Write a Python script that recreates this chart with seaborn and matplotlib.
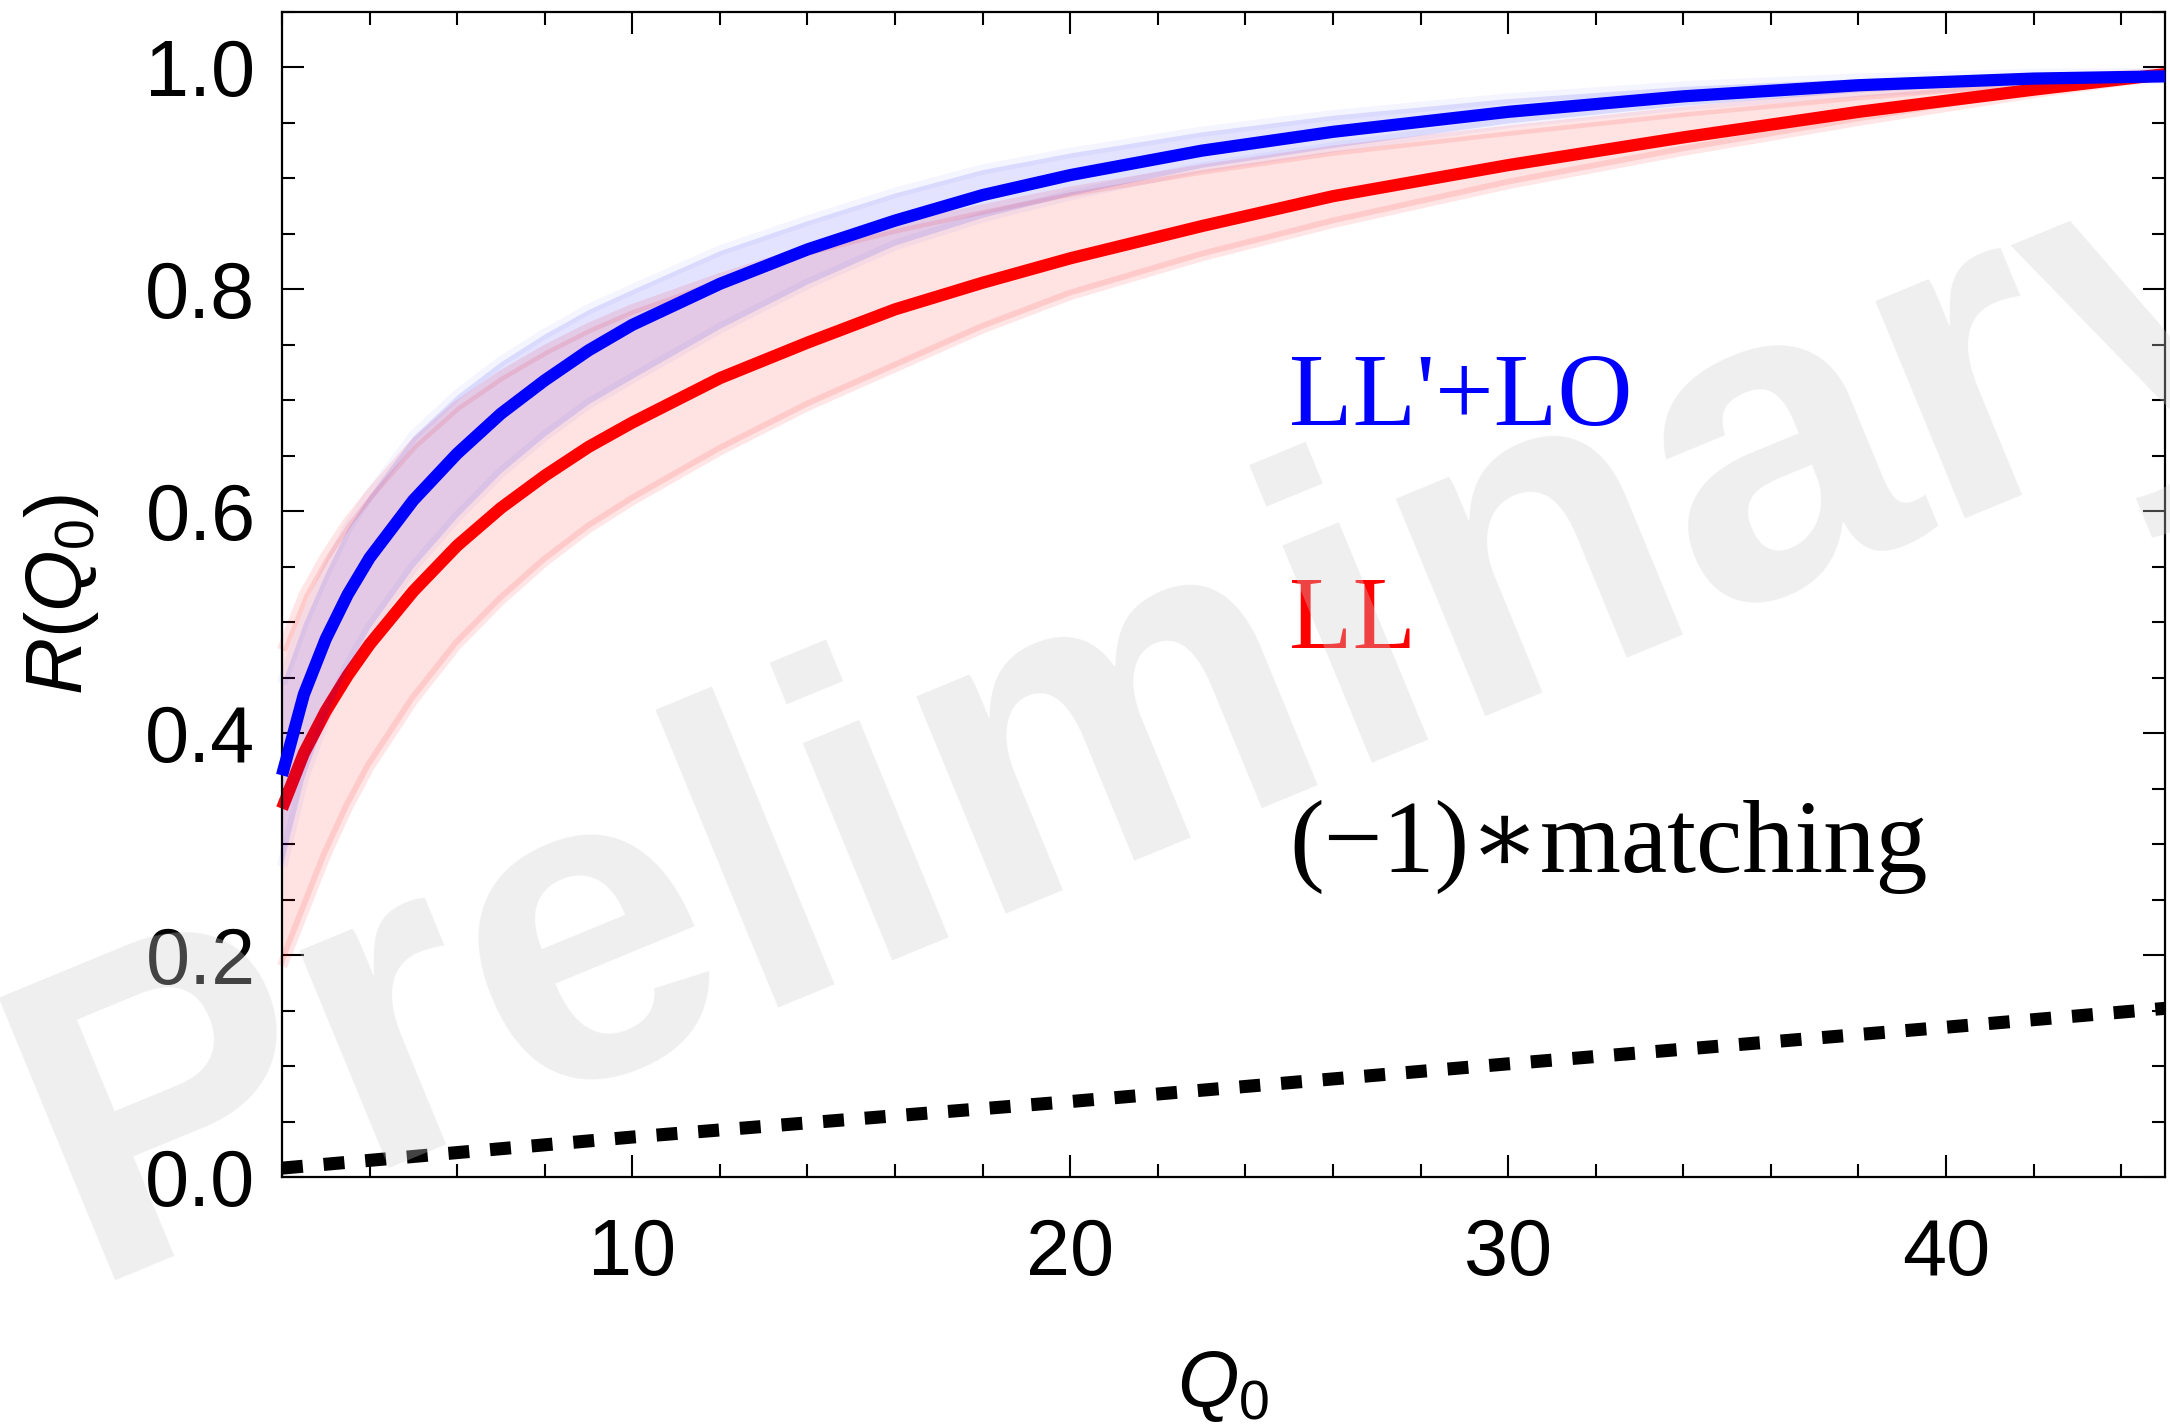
import numpy as np
import pandas as pd
import matplotlib
matplotlib.use("Agg")
import matplotlib.pyplot as plt
import seaborn as sns
from matplotlib.ticker import MultipleLocator, FormatStrFormatter

# ---------------- data ----------------
q0 = [2, 2.5, 3, 3.5, 4, 5, 6, 7, 8, 9, 10, 12, 14, 16, 18, 20, 23, 26, 30, 34, 38, 42, 45]

ll_central = [0.332, 0.382, 0.42, 0.452, 0.48, 0.528, 0.569, 0.603, 0.632, 0.658, 0.68,
              0.72, 0.752, 0.782, 0.806, 0.828, 0.857, 0.884, 0.912, 0.937, 0.96, 0.98, 0.994]
ll_lower = [0.19, 0.24, 0.29, 0.333, 0.37, 0.43, 0.48, 0.52, 0.555, 0.585, 0.61,
            0.655, 0.695, 0.73, 0.765, 0.795, 0.83, 0.86, 0.895, 0.925, 0.952, 0.977, 0.993]
ll_upper = [0.475, 0.525, 0.56, 0.59, 0.615, 0.66, 0.695, 0.722, 0.745, 0.765, 0.782,
            0.81, 0.835, 0.855, 0.872, 0.888, 0.908, 0.925, 0.943, 0.96, 0.975, 0.988, 0.995]

nll_central = [0.362, 0.435, 0.485, 0.525, 0.558, 0.61, 0.652, 0.688, 0.718, 0.745, 0.768,
               0.805, 0.836, 0.862, 0.885, 0.903, 0.925, 0.942, 0.96, 0.974, 0.984, 0.99, 0.992]
nll_lower = [0.28, 0.36, 0.415, 0.46, 0.495, 0.55, 0.595, 0.635, 0.668, 0.697, 0.72,
             0.765, 0.805, 0.84, 0.865, 0.885, 0.91, 0.928, 0.95, 0.966, 0.978, 0.986, 0.99]
nll_upper = [0.445, 0.50, 0.545, 0.585, 0.615, 0.668, 0.705, 0.735, 0.76, 0.782, 0.80,
             0.835, 0.862, 0.887, 0.908, 0.923, 0.942, 0.957, 0.972, 0.983, 0.99, 0.994, 0.995]

match_q0 = [2, 10, 20, 30, 40, 45]
match_vals = [0.008, 0.036, 0.068, 0.102, 0.135, 0.152]

x_major = [10, 20, 30, 40]
y_major = [0.0, 0.2, 0.4, 0.6, 0.8, 1.0]

label_nll = "LL'+LO"
label_ll = "LL"
label_match = "(\u22121)\u2217matching"
watermark = "Preliminary"

# ---------------- style ----------------
sns.set_theme(style="ticks")
plt.rcParams["font.family"] = ["Liberation Sans", "DejaVu Sans"]
plt.rcParams["mathtext.fontset"] = "custom"
plt.rcParams["mathtext.rm"] = "Liberation Sans"
plt.rcParams["mathtext.it"] = "Liberation Sans:italic"

W, H = 2170, 1428
fig = plt.figure(figsize=(W / 100, H / 100), dpi=100)
ax = fig.add_axes([282 / W, 1 - 1177 / H, (2165 - 282) / W, (1177 - 12) / H])

df = pd.DataFrame({"Q0": q0, "ll": ll_central, "ll_lo": ll_lower, "ll_hi": ll_upper,
                   "nll": nll_central, "nll_lo": nll_lower, "nll_hi": nll_upper})
dm = pd.DataFrame({"Q0": match_q0, "m": match_vals})

# LL band
ax.fill_between(df["Q0"], df["ll_lo"], df["ll_hi"], color="red", alpha=0.115, lw=0, zorder=1)
for col in ["ll_lo", "ll_hi"]:
    sns.lineplot(data=df, x="Q0", y=col, ax=ax, color="red", alpha=0.1, lw=7.5,
                 solid_capstyle="butt", solid_joinstyle="round", clip_on=False, zorder=1.5)
# LL central
sns.lineplot(data=df, x="Q0", y="ll", ax=ax, color="red", lw=8.8,
             solid_capstyle="butt", solid_joinstyle="round", clip_on=False, zorder=2)
# LL'+LO band
ax.fill_between(df["Q0"], df["nll_lo"], df["nll_hi"], color="blue", alpha=0.11, lw=0, zorder=3)
for col in ["nll_lo", "nll_hi"]:
    sns.lineplot(data=df, x="Q0", y=col, ax=ax, color="blue", alpha=0.04, lw=7.5,
                 solid_capstyle="butt", solid_joinstyle="round", clip_on=False, zorder=3.5)
# LL'+LO central
sns.lineplot(data=df, x="Q0", y="nll", ax=ax, color="blue", lw=8.8,
             solid_capstyle="butt", solid_joinstyle="round", clip_on=False, zorder=4)
# matching (dashed)
sns.lineplot(data=dm, x="Q0", y="m", ax=ax, color="black", lw=9.4,
             linestyle=(0, (1.6, 1.6)), dash_capstyle="butt", clip_on=False, zorder=5)

ax.set_xlim(2, 45)
ax.set_ylim(0, 1.05)
ax.xaxis.set_major_locator(plt.FixedLocator(x_major))
ax.xaxis.set_minor_locator(MultipleLocator(2))
ax.yaxis.set_major_locator(plt.FixedLocator(y_major))
ax.yaxis.set_minor_locator(MultipleLocator(0.05))
ax.yaxis.set_major_formatter(FormatStrFormatter("%.1f"))

ax.tick_params(which="both", direction="in", top=True, right=True, color="black", width=1.5)
ax.tick_params(which="major", length=15.8)
ax.tick_params(which="minor", length=9.4)
ax.tick_params(axis="x", which="major", labelsize=57, pad=29, labelcolor="black")
ax.tick_params(axis="y", which="major", labelsize=57, pad=19, labelcolor="black")
for s in ax.spines.values():
    s.set_visible(True)
    s.set_color("black")
    s.set_linewidth(1.6)

ax.set_xlabel(r"$Q_0$", fontsize=57, color="black")
ax.set_ylabel(r"$R(Q_0)$", fontsize=57, color="black")
ax.xaxis.set_label_coords(0.5, -0.148)
ax.yaxis.set_label_coords(-0.096, 0.5)

serif = ["Liberation Serif", "DejaVu Serif"]
ax.text(25, 0.678, label_nll, color="blue", fontsize=75, family=serif, va="baseline", ha="left", zorder=6)
ax.text(25, 0.477, label_ll, color="red", fontsize=75, family=serif, va="baseline", ha="left", zorder=6)
ax.text(25, 0.275, label_match, color="black", fontsize=75, family=serif, va="baseline", ha="left", zorder=6)

fig.text(85 / W, 1 - 1281 / H, watermark, rotation=22.4, rotation_mode="anchor",
         ha="left", va="baseline", fontsize=320, fontweight="bold",
         family=["Liberation Sans", "DejaVu Sans"], color=(0.81, 0.81, 0.81), alpha=0.33, zorder=10)

fig.savefig("out.png", dpi=100)
